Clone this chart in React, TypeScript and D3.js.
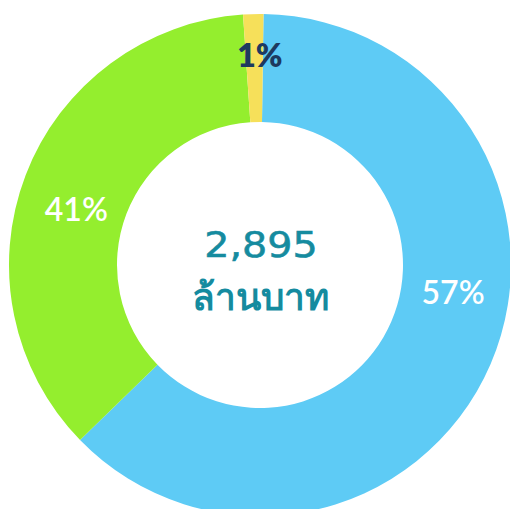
import React from "react";
import * as d3 from "d3";

const categories = ["ฟ้า", "เขียว", "เหลือง"];
const sliceValues = [62.5, 36.2, 1.3];
const sliceLabels = ["57%", "41%", "1%"];
const sliceColors = ["#5ECBF5", "#94EE2E", "#F6E05A"];
const labelColors = ["#FFFFFF", "#FFFFFF", "#1D3A5F"];
const centerValue = "2,895";
const centerUnit = "ล้านบาท";

export default function App() {
  const W = 510, H = 509;
  const cx = 260, cy = 265;
  const outerR = 251, innerR = 143;
  const startDeg = 0.8;

  const pie = d3
    .pie<number>()
    .sort(null)
    .startAngle((startDeg * Math.PI) / 180)
    .endAngle((startDeg * Math.PI) / 180 + 2 * Math.PI);
  const arcs = pie(sliceValues);
  const arcGen = d3.arc<d3.PieArcDatum<number>>().innerRadius(innerR).outerRadius(outerR);

  // label placement: angle shift (deg) and radius relative to each slice
  const labelAdj = [
    { dAng: -15.3, r: 195 },
    { dAng: -4, r: 192 },
    { dAng: 1.5, r: 210 },
  ];
  const font = "'Lato', 'Noto Sans', sans-serif";
  const numFont = "'DejaVu Sans', sans-serif";

  return (
    <svg
      width={W}
      height={H}
      style={{ position: "absolute", left: 0, top: 0, background: "#fff" }}
    >
      <g transform={`translate(${cx},${cy})`}>
        {arcs.map((a, i) => (
          <path key={categories[i]} d={arcGen(a) || ""} fill={sliceColors[i]} />
        ))}
        {arcs.map((a, i) => {
          const mid = (a.startAngle + a.endAngle) / 2 + (labelAdj[i].dAng * Math.PI) / 180;
          const r = labelAdj[i].r;
          const x = Math.sin(mid) * r;
          const y = -Math.cos(mid) * r;
          return (
            <text
              key={"l" + i}
              x={x}
              y={y}
              dy="0.36em"
              textAnchor="middle"
              fill={labelColors[i]}
              fontFamily={font}
              fontWeight={i === 2 ? 800 : 600}
              fontSize={32}
            >
              {sliceLabels[i]}
            </text>
          );
        })}
        <g transform="translate(1,-8) scale(1.1,1)">
          <text
            x={0}
            y={0}
            textAnchor="middle"
            fill="#158B9F"
            stroke="#158B9F"
            strokeWidth={0.6}
            fontFamily={numFont}
            fontWeight={400}
            fontSize={36}
          >
            {centerValue}
          </text>
        </g>
        <text
          x={0}
          y={45}
          textAnchor="middle"
          fill="#158B9F"
          fontFamily={font}
          fontWeight={600}
          fontSize={37}
        >
          {centerUnit}
        </text>
      </g>
    </svg>
  );
}
